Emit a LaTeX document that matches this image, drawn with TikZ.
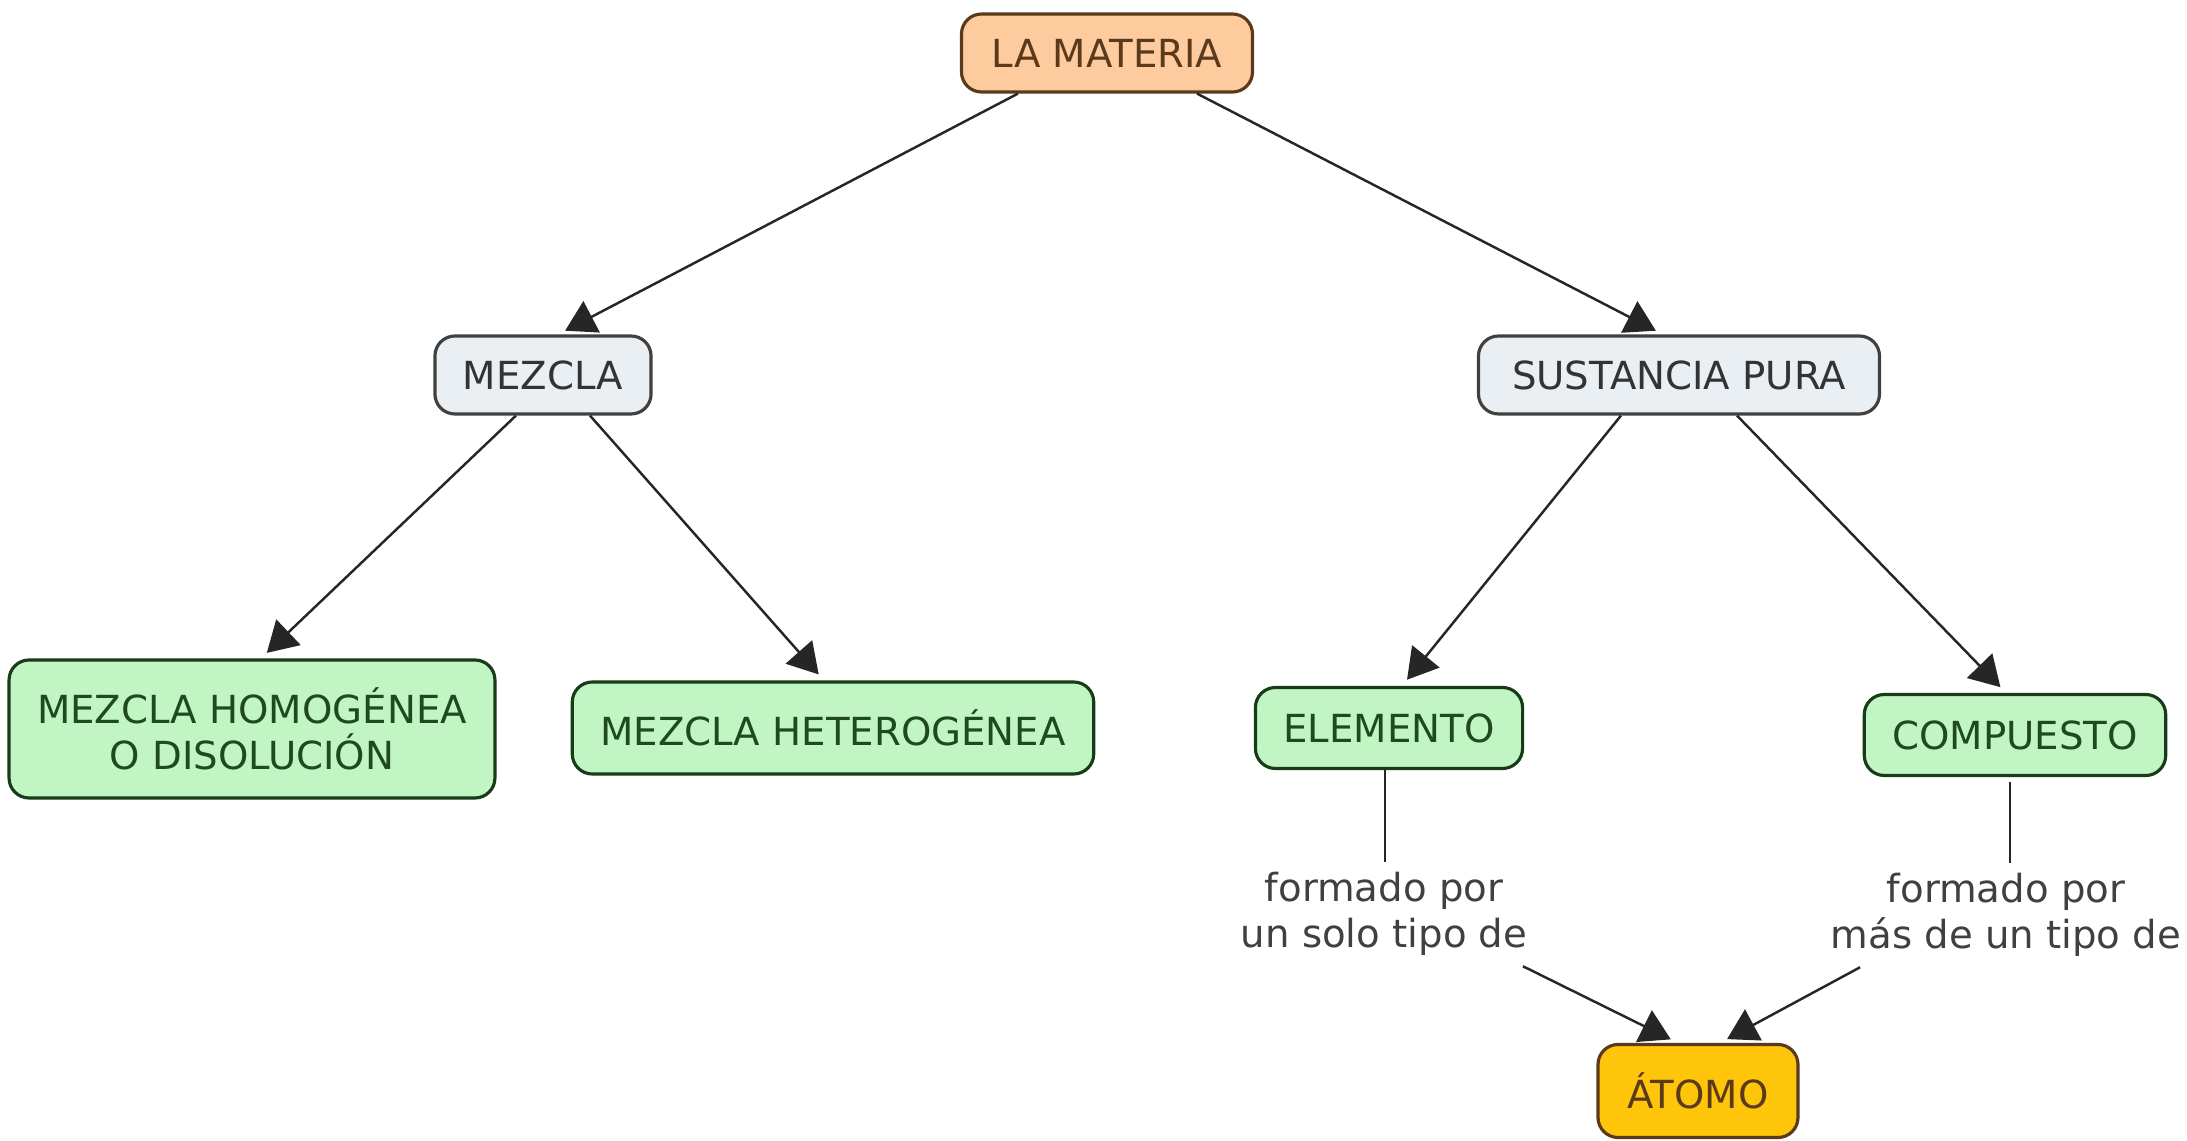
\documentclass[tikz,border=0pt]{standalone}
\usepackage{fontspec}
\setmainfont{DejaVu Sans}
\usetikzlibrary{arrows.meta}

\definecolor{peach}{HTML}{FDCB9E}
\definecolor{brownline}{HTML}{5A3A1A}
\definecolor{paleblue}{HTML}{E9EFF3}
\definecolor{palegreen}{HTML}{C2F5C4}
\definecolor{darkgreen}{HTML}{1E4A1E}
\definecolor{gold}{HTML}{FFC50A}

\begin{document}
\begin{tikzpicture}[
      font = \fontsize{11}{13}\selectfont,
      concept/.style = {
        rectangle,
        draw = black!80, line width = 0.9pt,
        align = center,
        inner xsep = 2.8mm,
        rounded corners = 2mm,
      },
      top/.style = {
        concept,
        draw = brownline,
        fill = peach,
        text = brownline,
      },
      mid/.style = {
        concept,
        draw = black!75,
        fill = paleblue,
        text = black!80,
      },
      leaf/.style = {
        concept,
        draw = darkgreen!80!black,
        fill = palegreen,
        text = darkgreen,
      },
      gold/.style = {
        concept,
        draw = brownline,
        fill = gold,
        text = brownline,
      },
      link/.style = {
        align = center,
        inner sep = 1mm,
        text = black!75,
      },
      arrow/.style = {
        draw = black!85, line width = 0.7pt,
        -{Triangle[length = 3mm, width = 3.5mm]},
        shorten > = 0.8mm,
      },
      plain/.style = {
        draw = black!85, line width = 0.7pt,
      }
    ]
    \useasboundingbox (0,0) rectangle (21.87,-11.41);

    \node[top, minimum width = 2.91cm, minimum height = 0.78cm] (mat) at (11.07,-0.53) {LA MATERIA};

    \node[mid, minimum width = 2.12cm, minimum height = 0.78cm] (mez) at (5.43,-3.75) {MEZCLA};
    \node[mid, minimum width = 4.01cm, minimum height = 0.78cm] (sp) at (16.79,-3.75) {SUSTANCIA PURA};

    \node[leaf, minimum width = 4.79cm, minimum height = 1.38cm] (hom) at (2.52,-7.29) {MEZCLA HOMOGÉNEA\\O DISOLUCIÓN};
    \node[leaf, minimum width = 5.17cm, minimum height = 0.92cm] (het) at (8.33,-7.28) {MEZCLA HETEROGÉNEA};
    \node[leaf, minimum width = 2.62cm, minimum height = 0.81cm] (ele) at (13.89,-7.28) {ELEMENTO};
    \node[leaf, minimum width = 2.97cm, minimum height = 0.81cm] (comp) at (20.15,-7.35) {COMPUESTO};

    \node[link] (la) at (13.84,-9.14) {formado por\\un solo tipo de};
    \node[link] (lb) at (20.06,-9.15) {formado por\\más de un tipo de};

    \node[gold, minimum width = 2.0cm, minimum height = 0.93cm] (at) at (16.98,-10.91) {ÁTOMO};

    % connectors
    \draw[arrow] ([xshift=-8.9mm]mat.south) -- ([xshift=1.5mm]mez.north);
    \draw[arrow] ([xshift=9mm]mat.south) -- ([xshift=-1.6mm]sp.north);
    \draw[arrow] ([xshift=-2.7mm]mez.south) -- ([xshift=0.9mm]hom.north);
    \draw[arrow] ([xshift=4.7mm]mez.south) -- ([xshift=-0.9mm]het.north);
    \draw[arrow] ([xshift=-5.8mm]sp.south) -- ([xshift=1.3mm]ele.north);
    \draw[arrow] ([xshift=5.8mm]sp.south) -- ([xshift=-0.9mm]comp.north);
    \draw[plain] ([xshift=-0.4mm]ele.south) -- ([xshift=-0.4mm]ele.south |- la.north);
    \draw[plain] ([xshift=-0.5mm,yshift=-0.5mm]comp.south) -- ([xshift=-0.5mm]comp.south |- lb.north);
    \draw[arrow] ([xshift=-1.5mm]la.south east) -- ([xshift=-2mm]at.north);
    \draw[arrow] ([xshift=4mm]lb.south west) -- ([xshift=2.2mm]at.north);
  \end{tikzpicture}
\end{document}
